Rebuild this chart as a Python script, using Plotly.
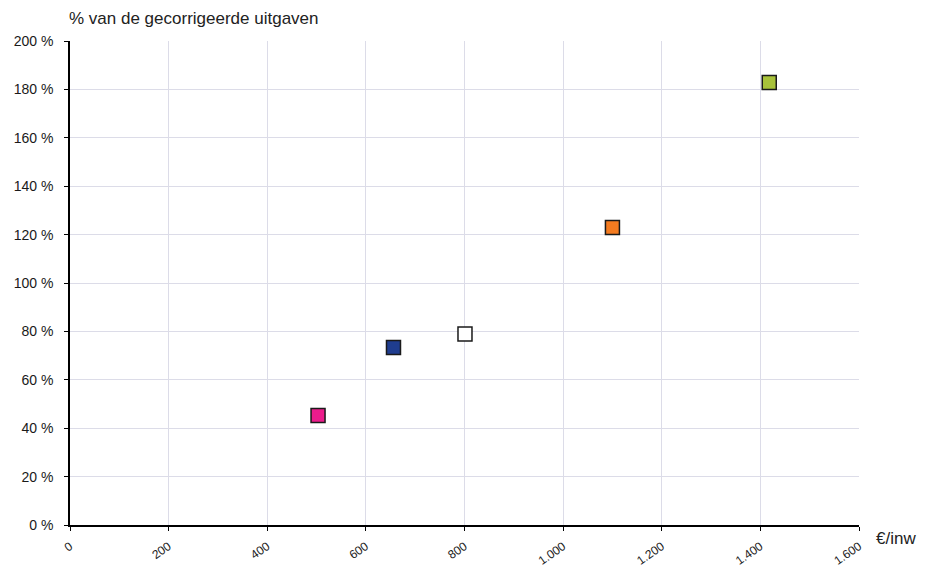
import plotly.graph_objects as go

# uitgaven per inwoner (EUR) vs % van de gecorrigeerde uitgaven
x_values = [503, 656, 801, 1100, 1418]
y_values = [45.2, 73.3, 78.9, 122.9, 182.9]
fill_colors = ["#ec1c8c", "#1f3d8f", "#ffffff", "#f47b20", "#a8c23a"]

x_ticks = [0, 200, 400, 600, 800, 1000, 1200, 1400, 1600]
x_tick_text = ["0", "200", "400", "600", "800", "1.000", "1.200", "1.400", "1.600"]
y_ticks = [0, 20, 40, 60, 80, 100, 120, 140, 160, 180, 200]
y_tick_text = [f"{v} %" for v in y_ticks]

grid = "#dcdce8"

fig = go.Figure(go.Scatter(
    x=x_values,
    y=y_values,
    mode="markers",
    marker=dict(symbol="square", size=14, color=fill_colors,
                line=dict(color="#1a1a1a", width=1.5)),
    hoverinfo="x+y",
    showlegend=False,
))

# page body adds an 8px offset, so the figure is 8px smaller than the window
fig.update_layout(
    width=932,
    height=565,
    margin=dict(l=62, r=81, t=33, b=48),
    paper_bgcolor="white",
    plot_bgcolor="white",
    font=dict(family="Liberation Sans, Arial, sans-serif", size=14, color="#1a1a1a"),
    xaxis=dict(
        range=[0, 1600],
        tickvals=x_ticks,
        ticktext=x_tick_text,
        tickangle=-35,
        tickfont=dict(size=12),
        showgrid=True,
        gridcolor=grid,
        gridwidth=1,
        zeroline=False,
        showline=True,
        linecolor="black",
        linewidth=1.5,
        ticks="outside",
        ticklen=4,
        tickcolor="black",
        ticklabelstandoff=4,
        automargin=False,
    ),
    yaxis=dict(
        range=[0, 200],
        tickvals=y_ticks,
        ticktext=y_tick_text,
        showgrid=True,
        gridcolor=grid,
        gridwidth=1,
        zeroline=False,
        showline=True,
        linecolor="black",
        linewidth=1.5,
        ticks="outside",
        ticklen=4,
        tickcolor="black",
        ticklabelstandoff=8,
        automargin=False,
    ),
    annotations=[
        dict(text="% van de gecorrigeerde uitgaven", xref="paper", yref="paper",
             x=-0.004, y=1.0475, xanchor="left", yanchor="middle", showarrow=False,
             font=dict(size=17, color="#222222")),
        dict(text="€/inw", xref="paper", yref="paper",
             x=1.047, y=-0.028, xanchor="center", yanchor="middle", showarrow=False,
             font=dict(size=17, color="#222222")),
    ],
)

fig.write_html("out.html")
